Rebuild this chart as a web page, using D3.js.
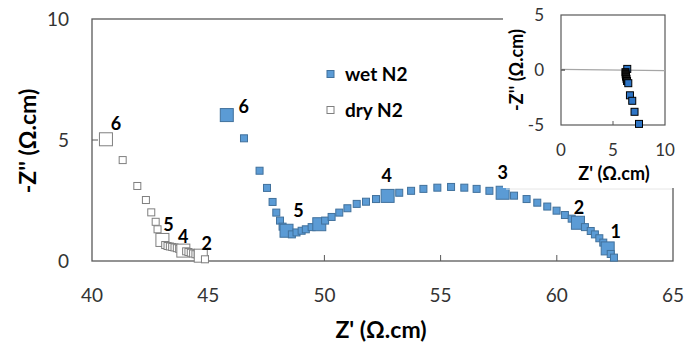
<!DOCTYPE html>
<html>
<head>
<meta charset="utf-8">
<script src="https://cdn.jsdelivr.net/npm/d3@7"></script>
<style>
  body { margin: 0; background: #fff; }
  text { font-family: Lato, "Open Sans", sans-serif; }
</style>
</head>
<body>
<div id="chart"></div>
<script>
// ---- data ----
const wetX = [45.8, 46.54, 47.21, 47.53, 47.77, 47.93, 48.09, 48.2, 48.37, 48.6, 48.8, 49.02, 49.2, 49.45, 49.78, 50.03, 50.31, 50.64, 50.99, 51.39, 51.79, 52.22, 52.72, 53.22, 53.73, 54.26, 54.86, 55.45, 56.02, 56.55, 57.1, 57.67, 58.16, 58.7, 59.16, 59.59, 59.99, 60.35, 60.64, 60.91, 61.21, 61.46, 61.64, 61.83, 62.0, 62.19, 62.32, 62.46];
const wetY = [6.03, 5.07, 3.73, 3.02, 2.44, 2.0, 1.67, 1.42, 1.25, 1.1, 1.18, 1.25, 1.31, 1.4, 1.52, 1.67, 1.82, 2.0, 2.18, 2.36, 2.45, 2.56, 2.69, 2.82, 2.9, 2.98, 3.03, 3.06, 3.03, 2.98, 2.9, 2.82, 2.7, 2.56, 2.41, 2.25, 2.08, 1.9, 1.75, 1.58, 1.4, 1.24, 1.1, 0.94, 0.76, 0.52, 0.29, 0.14];
const wetMarked = [0, 8, 14, 22, 31, 39, 45];      // index of the big markers
const wetLabels = ["6", "5", "", "4", "3", "2", "1"];

const dryX = [40.6, 41.32, 41.95, 42.32, 42.55, 42.74, 42.82, 43.03, 43.15, 43.25, 43.35, 43.45, 43.55, 43.65, 43.75, 43.85, 43.93, 44.05, 44.15, 44.25, 44.35, 44.45, 44.55, 44.68, 44.86];
const dryY = [5.03, 4.17, 3.1, 2.52, 2.01, 1.62, 1.31, 0.87, 0.66, 0.62, 0.6, 0.58, 0.56, 0.53, 0.5, 0.47, 0.43, 0.4, 0.37, 0.34, 0.31, 0.28, 0.25, 0.22, 0.07];
const dryMarked = [0, 7, 16, 23];
const dryLabels = ["6", "5", "4", "2"];

const insetX = [6.37, 6.2, 6.22, 6.25, 6.3, 6.35, 6.47, 6.63, 6.85, 7.07, 7.5];
const insetY = [0.1, -0.2, -0.4, -0.6, -0.8, -1.0, -1.2, -2.3, -2.8, -3.8, -4.9];

const xTicks = [40, 45, 50, 55, 60, 65];
const yTicks = [0, 5, 10];
const insetXTicks = [0, 5, 10];
const insetYTicks = [-5, 0, 5];

// ---- drawing ----
const width = 686, height = 347;
const svg = d3.select("#chart").append("svg")
  .attr("width", width).attr("height", height);

const axisColor = "#595959";
const x = d3.scaleLinear().domain([40, 65]).range([92, 673]);
const y = d3.scaleLinear().domain([0, 10]).range([261, 19]);

// plot frame
svg.append("rect")
  .attr("x", x(40)).attr("y", y(10))
  .attr("width", x(65) - x(40)).attr("height", y(0) - y(10))
  .attr("fill", "none").attr("stroke", axisColor).attr("stroke-width", 1.3);

// ticks (inside)
svg.selectAll(".xt").data(xTicks.slice(1, -1)).join("line")
  .attr("x1", d => x(d)).attr("x2", d => x(d))
  .attr("y1", y(0)).attr("y2", y(0) - 6)
  .attr("stroke", axisColor);
svg.selectAll(".yt").data([5]).join("line")
  .attr("x1", x(40)).attr("x2", x(40) + 6)
  .attr("y1", d => y(d)).attr("y2", d => y(d))
  .attr("stroke", axisColor);

svg.selectAll(".xl").data(xTicks).join("text")
  .attr("x", d => x(d)).attr("y", 302)
  .attr("text-anchor", "middle")
  .attr("font-size", 19).attr("fill", "#333")
  .text(d => d);
svg.selectAll(".yl").data(yTicks).join("text")
  .attr("x", 69).attr("y", d => y(d) + 7)
  .attr("text-anchor", "end")
  .attr("font-size", 19).attr("fill", "#333")
  .text(d => d);

svg.append("text")
  .attr("x", 381).attr("y", 338)
  .attr("text-anchor", "middle")
  .attr("font-size", 23).attr("font-weight", "bold")
  .text("Z' (Ω.cm)");
svg.append("text")
  .attr("transform", `translate(36, 141) rotate(-90)`)
  .attr("text-anchor", "middle")
  .attr("font-size", 23).attr("font-weight", "bold")
  .text("-Z'' (Ω.cm)");

const wetFill = "#5b9bd5", wetStroke = "#41719c";
const dryStroke = "#7f7f7f";

const drawSquares = (g, xs, ys, marked, xSc, ySc, fill, stroke) => {
  const pts = xs.map((v, i) => ({ x: v, y: ys[i], big: marked.includes(i) }));
  g.selectAll("rect").data(pts).join("rect")
    .attr("x", d => xSc(d.x) - (d.big ? 6.5 : 3.5))
    .attr("y", d => ySc(d.y) - (d.big ? 6.5 : 3.5))
    .attr("width", d => d.big ? 13 : 7)
    .attr("height", d => d.big ? 13 : 7)
    .attr("fill", fill).attr("stroke", stroke).attr("stroke-width", 1);
};

drawSquares(svg.append("g"), dryX, dryY, dryMarked, x, y, "#fff", dryStroke);
drawSquares(svg.append("g"), wetX, wetY, wetMarked, x, y, wetFill, wetStroke);

// legend
const legend = [["wet N2", wetFill, wetStroke], ["dry N2", "#fff", dryStroke]];
legend.forEach((l, i) => {
  const ly = 74 + i * 36;
  svg.append("rect")
    .attr("x", 327).attr("y", ly - 3.5).attr("width", 7).attr("height", 7)
    .attr("fill", l[1]).attr("stroke", l[2]);
  svg.append("text")
    .attr("x", 345).attr("y", ly + 7)
    .attr("font-size", 19).attr("font-weight", "bold")
    .text(l[0]);
});

// ---- inset ----
svg.append("rect")
  .attr("x", 503).attr("y", 0).attr("width", 183).attr("height", 188)
  .attr("fill", "#fff");
svg.append("line")
  .attr("x1", 506).attr("x2", 672).attr("y1", 189).attr("y2", 189)
  .attr("stroke", "#e6e6e6");

const ix = d3.scaleLinear().domain([0, 10]).range([561, 665]);
const iy = d3.scaleLinear().domain([-5, 5]).range([125, 15]);

svg.append("rect")
  .attr("x", ix(0)).attr("y", iy(5))
  .attr("width", ix(10) - ix(0)).attr("height", iy(-5) - iy(5))
  .attr("fill", "none").attr("stroke", axisColor).attr("stroke-width", 1.2);
svg.append("line")
  .attr("x1", ix(0)).attr("x2", ix(10))
  .attr("y1", iy(0) - 0.7).attr("y2", iy(0) + 0.7)
  .attr("stroke", "#a6a6a6").attr("stroke-width", 1.3);
svg.append("line")
  .attr("x1", ix(5)).attr("x2", ix(5))
  .attr("y1", iy(-5)).attr("y2", iy(-5) - 4)
  .attr("stroke", axisColor);
svg.append("line")
  .attr("x1", ix(0)).attr("x2", ix(0) + 4)
  .attr("y1", iy(0)).attr("y2", iy(0))
  .attr("stroke", axisColor).attr("stroke-width", 1.5);

svg.selectAll(".ixl").data(insetXTicks).join("text")
  .attr("x", d => ix(d)).attr("y", 156)
  .attr("text-anchor", "middle")
  .attr("font-size", 17).attr("fill", "#333")
  .text(d => d);
svg.selectAll(".iyl").data(insetYTicks).join("text")
  .attr("x", 544).attr("y", d => iy(d) + 6)
  .attr("text-anchor", "end")
  .attr("font-size", 17).attr("fill", "#333")
  .text(d => d);
svg.append("text")
  .attr("x", 614).attr("y", 180)
  .attr("text-anchor", "middle")
  .attr("font-size", 18).attr("font-weight", "bold")
  .text("Z' (Ω.cm)");
svg.append("text")
  .attr("transform", `translate(523, 70) rotate(-90)`)
  .attr("text-anchor", "middle")
  .attr("font-size", 18).attr("font-weight", "bold")
  .text("-Z'' (Ω.cm)");

const insetPts = insetX.map((v, i) => ({ x: v, y: insetY[i], dark: i >= 1 && i <= 5 }));
svg.append("g").selectAll("rect").data(insetPts).join("rect")
  .attr("x", d => ix(d.x) - 3.5).attr("y", d => iy(d.y) - 3.5)
  .attr("width", 7).attr("height", 7)
  .attr("fill", d => d.dark ? "#1a1a1a" : "#2e75c6")
  .attr("stroke", "#000").attr("stroke-width", 1);

// point labels (drawn last so they sit on top)
const labelOffsets = {
  wet: [[17, -8], [12, -20], null, [-1, -20], [0, -20], [1, -15], [8, -16]],
  dry: [[10, -15], [6, -15], [0, -14], [6, -12]]
};
const addLabel = (px, py, txt) => svg.append("text")
  .attr("x", px).attr("y", py + 6)
  .attr("text-anchor", "middle")
  .attr("font-size", 18).attr("font-weight", "bold")
  .text(txt);
wetMarked.forEach((idx, i) => {
  if (!wetLabels[i]) return;
  const o = labelOffsets.wet[i];
  addLabel(x(wetX[idx]) + o[0], y(wetY[idx]) + o[1], wetLabels[i]);
});
dryMarked.forEach((idx, i) => {
  const o = labelOffsets.dry[i];
  addLabel(x(dryX[idx]) + o[0], y(dryY[idx]) + o[1], dryLabels[i]);
});
</script>
</body>
</html>
